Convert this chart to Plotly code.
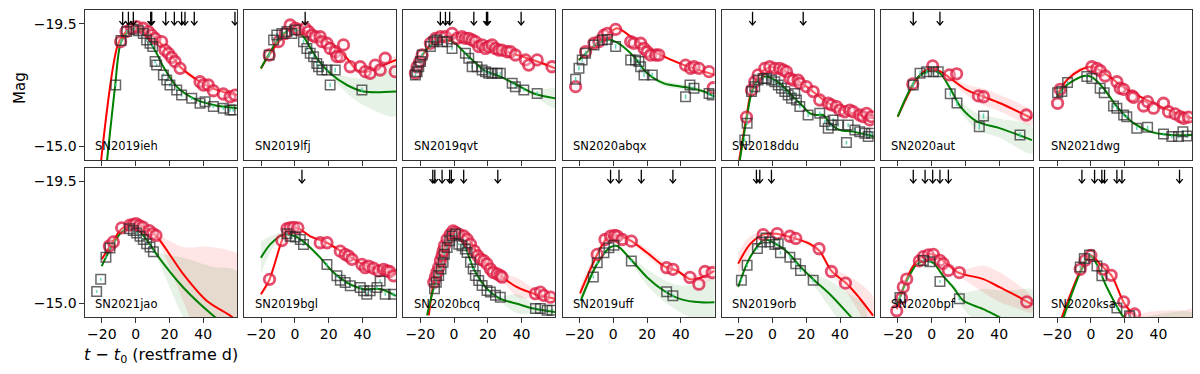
import plotly.graph_objects as go

# --- panel names (2 rows x 7 columns) ---
NAMES = ["SN2019ieh", "SN2019lfj", "SN2019qvt", "SN2020abqx", "SN2018ddu", "SN2020aut", "SN2021dwg",
         "SN2021jao", "SN2019bgl", "SN2020bcq", "SN2019uff", "SN2019orb", "SN2020bpf", "SN2020ksa"]

# r-band photometry (red circles)
R_T = [
    [-8.9, -5.7, -2.4, 0.6, 4.5, 7.5, 9.5, 11.5, 15.4, 17.4, 19.4, 21.3, 23.3, 26.3, 38.1, 40.1, 43.0, 46.0, 51.9, 55.9, 58.8],
    [-15.2, -9.7, -5.7, -2.8, 0.2, 2.2, 6.1, 8.1, 10.1, 12.0, 15.0, 16.0, 19.0, 20.9, 23.9, 24.9, 26.9, 28.8, 32.8, 38.7, 41.7, 44.6, 47.6, 50.5, 53.5, 59.4],
    [-22.9, -21.9, -20.3, -18.9, -14.0, -11.0, -8.1, -5.1, -1.2, 1.8, 4.7, 6.7, 8.7, 10.7, 12.6, 14.6, 16.6, 18.6, 20.5, 22.5, 24.5, 26.5, 28.4, 31.4, 33.4, 36.3, 42.3, 44.2, 49.2, 58.0],
    [-22.3, -16.4, -11.4, -8.5, -5.5, -3.5, 1.4, 10.3, 12.2, 16.2, 18.2, 20.1, 22.1, 25.1, 27.0, 42.8, 45.8, 47.8, 50.7, 56.7, 59.2],
    [-15.4, -12.4, -10.5, -8.5, -4.5, -1.6, 1.4, 4.3, 6.3, 8.3, 10.3, 12.2, 15.2, 16.2, 20.1, 24.1, 28.0, 33.0, 34.9, 37.9, 39.9, 42.8, 45.8, 47.8, 51.7, 53.7, 55.7, 57.6, 58.6],
    [-11.2, 0.6, 10.5, 14.8, 27.7, 30.7, 56.0],
    [-19.7, -18.2, 0.6, 3.6, 5.5, 8.5, 15.4, 17.4, 19.4, 24.3, 25.3, 31.2, 33.6, 37.1, 43.0, 46.0, 49.9, 52.9, 54.9, 57.8],
    [-15.6, -13.2, -8.3, -3.4, -1.4, 0.2, 2.2, 4.2, 8.1, 10.1, 12.0],
    [-15.0, -7.7, -4.7, -2.8, -0.8, 1.8, 15.0, 19.0, 26.9, 29.8, 31.8, 33.8, 39.7, 41.7, 43.6, 46.6, 49.6, 52.5, 54.5, 56.1, 58.4],
    [-12.0, -11.0, -10.1, -9.1, -8.1, -7.1, -6.5, -5.7, -4.1, -2.2, -0.6, 0.8, 2.8, 5.7, 7.7, 9.7, 12.0, 14.0, 15.6, 17.6, 19.5, 21.5, 23.1, 25.5, 27.4, 28.4, 48.2, 51.1, 53.1, 57.1],
    [-9.5, -4.9, -1.6, 0.8, 2.4, 5.3, 10.7, 31.6, 35.3, 45.4, 50.7, 54.3, 58.6],
    [-5.5, 2.8, 10.3, 13.8, 27.6, 34.9, 43.2],
    [-20.7, -17.8, -16.8, -14.8, -7.3, -4.9, -2.0, 1.0, 4.9, 6.9, 9.9, 16.4, 56.3],
    [-6.3, -3.4, 0.0, 7.1, 12.0, 19.4, 23.3, 25.9],
]
R_MAG = [
    [-18.84, -19.21, -19.33, -19.39, -19.33, -19.21, -19.08, -18.96, -18.84, -18.53, -18.41, -18.26, -18.11, -17.86, -17.37, -17.25, -17.25, -17.04, -16.92, -16.82, -16.88],
    [-18.35, -18.84, -19.14, -19.45, -19.33, -19.27, -19.33, -19.21, -19.08, -19.02, -19.02, -18.84, -18.78, -18.59, -18.47, -18.29, -18.29, -18.72, -17.92, -17.92, -17.74, -17.68, -17.98, -17.80, -18.23, -17.74],
    [-17.68, -17.92, -18.11, -18.35, -18.78, -18.96, -19.02, -19.02, -19.14, -18.96, -19.02, -18.96, -18.96, -18.90, -18.84, -18.66, -18.72, -18.59, -18.66, -18.72, -18.59, -18.53, -18.53, -18.47, -18.47, -18.35, -18.17, -17.98, -18.17, -17.92],
    [-17.19, -18.47, -18.78, -18.84, -19.08, -19.14, -19.29, -18.84, -18.78, -18.78, -18.59, -18.47, -18.35, -18.35, -18.35, -17.98, -17.86, -17.92, -17.86, -17.74, -17.15],
    [-16.07, -17.07, -17.37, -17.62, -17.86, -17.92, -17.86, -17.86, -17.80, -17.74, -17.49, -17.43, -17.43, -17.31, -17.19, -17.01, -16.70, -16.58, -16.52, -16.46, -16.33, -16.27, -16.33, -16.27, -16.15, -16.09, -16.21, -15.97, -16.09],
    [-17.29, -17.95, -17.62, -17.66, -16.85, -16.82, -16.15],
    [-16.58, -17.09, -17.92, -17.86, -17.78, -17.58, -17.37, -17.13, -17.09, -16.85, -16.80, -16.48, -16.64, -16.40, -16.58, -16.27, -16.19, -16.09, -16.03, -16.07],
    [-17.12, -17.27, -17.79, -17.89, -17.91, -17.95, -17.87, -17.82, -17.69, -17.58, -17.51],
    [-15.89, -17.32, -17.76, -17.79, -17.81, -17.79, -17.24, -17.24, -16.93, -16.81, -16.75, -16.63, -16.44, -16.32, -16.38, -16.30, -16.20, -16.26, -16.20, -16.18, -16.02],
    [-15.78, -15.97, -16.15, -16.33, -16.58, -16.76, -16.94, -17.13, -17.37, -17.56, -17.68, -17.62, -17.56, -17.49, -17.37, -17.19, -16.94, -16.76, -16.64, -16.58, -16.46, -16.27, -16.15, -16.09, -16.03, -15.97, -15.36, -15.42, -15.30, -15.23],
    [-16.81, -17.36, -17.48, -17.51, -17.48, -17.36, -17.30, -16.32, -16.26, -15.96, -15.71, -16.18, -16.14],
    [-17.54, -17.58, -17.48, -17.40, -17.02, -16.18, -15.75],
    [-14.73, -15.20, -15.61, -15.90, -16.57, -16.73, -16.79, -16.81, -16.59, -16.47, -16.22, -16.14, -15.06],
    [-16.26, -16.59, -16.77, -16.26, -16.04, -15.06, -14.51, -14.61],
]

# g-band photometry (green squares)
G_T = [
    [-11.8, -8.7, -5.3, -1.4, 1.6, 4.5, 6.5, 8.5, 10.1, 11.5, 12.4, 16.4, 18.4, 20.3, 24.3, 27.2, 33.2, 38.1, 41.1, 46.0, 51.9, 55.9, 57.8],
    [-15.2, -12.6, -10.7, -7.7, -4.7, -1.8, 0.2, 5.1, 7.1, 9.1, 11.1, 13.0, 14.0, 16.0, 19.0, 20.9, 23.9, 39.7],
    [-22.9, -21.9, -20.9, -19.9, -18.9, -14.0, -12.0, -10.1, -7.1, -4.1, -1.2, 6.7, 8.7, 10.7, 13.6, 16.6, 18.6, 20.5, 22.5, 25.5, 27.4, 34.4, 36.3, 41.3, 49.2],
    [-22.3, -20.3, -18.4, -16.4, -11.4, -6.5, -3.5, 1.4, 10.3, 13.2, 15.2, 16.2, 18.2, 23.1, 42.8, 45.4, 47.8, 56.7, 58.6],
    [-16.4, -15.0, -12.4, -10.5, -8.5, -5.5, -3.5, -0.6, 1.4, 3.4, 5.3, 7.3, 9.3, 11.3, 13.2, 14.2, 16.2, 21.1, 28.0, 31.0, 33.0, 34.9, 35.9, 38.9, 43.8, 44.8, 48.8, 51.7, 54.7, 56.7, 58.6],
    [-10.9, -6.9, -3.0, 1.0, 3.9, 11.0, 15.0, 28.2, 30.7, 52.3],
    [-19.7, -17.2, -13.8, -2.4, 0.6, 5.5, 7.9, 13.4, 15.4, 19.4, 21.3, 27.2, 33.6, 43.0, 47.9, 51.9, 54.5, 56.9],
    [-23.1, -20.7, -17.6, -15.2, -3.7, -1.4, 0.6, 2.6, 4.5, 6.5, 8.5, 10.5],
    [-4.7, -2.8, 0.2, 3.2, 5.1, 19.0, 24.9, 26.9, 29.8, 32.8, 38.7, 40.7, 42.6, 44.6, 48.6, 50.5, 53.5, 58.4],
    [-11.6, -10.5, -9.1, -7.7, -6.5, -5.7, -4.1, -2.6, -1.2, 0.8, 2.8, 4.7, 6.7, 7.7, 9.7, 11.3, 12.6, 14.6, 16.6, 19.5, 21.5, 24.5, 27.4, 48.2, 51.1, 55.1, 58.0],
    [-11.8, -9.5, -5.5, -2.6, 0.4, 10.7, 31.6, 35.3],
    [-18.4, -15.0, -8.9, -6.5, -3.9, -1.6, 1.4, 3.4, 4.7, 10.3, 13.8, 16.6, 24.1],
    [-18.8, -4.9, -1.0, 4.9, 16.4],
    [-6.3, -3.9, -0.8, 3.6, 6.5, 15.4, 22.9],
]
G_MAG = [
    [-17.25, -18.88, -19.21, -19.29, -19.24, -19.14, -18.90, -18.78, -18.66, -18.11, -17.98, -17.62, -17.43, -17.25, -17.07, -16.88, -16.76, -16.58, -16.64, -16.46, -16.40, -16.33, -16.33],
    [-18.35, -18.90, -19.08, -19.14, -19.21, -19.14, -19.27, -18.84, -18.59, -18.41, -18.29, -18.04, -17.92, -17.80, -17.80, -17.25, -17.80, -17.07],
    [-17.62, -17.74, -17.92, -18.11, -18.35, -18.66, -18.84, -18.90, -18.84, -18.84, -18.59, -18.41, -18.23, -17.92, -17.92, -17.80, -17.74, -17.68, -17.68, -17.68, -17.68, -17.31, -17.19, -17.07, -16.94],
    [-17.46, -17.86, -18.17, -18.41, -18.72, -18.90, -18.92, -18.66, -18.17, -18.17, -18.11, -17.92, -17.62, -17.62, -16.82, -17.25, -17.13, -16.94, -16.88],
    [-15.23, -15.85, -17.01, -17.19, -17.43, -17.49, -17.49, -17.43, -17.37, -17.25, -17.13, -17.01, -16.88, -16.76, -16.94, -16.70, -16.46, -16.15, -16.21, -15.91, -15.66, -15.78, -15.97, -15.78, -15.14, -15.78, -15.60, -15.54, -15.48, -15.36, -15.48],
    [-17.25, -17.68, -17.74, -17.74, -17.74, -16.93, -16.59, -15.72, -16.11, -15.42],
    [-16.97, -17.01, -17.34, -17.56, -17.49, -17.13, -16.97, -16.48, -16.40, -16.15, -16.09, -15.66, -15.70, -15.45, -15.36, -15.36, -15.54, -15.38],
    [-15.44, -15.89, -16.71, -17.05, -17.76, -17.69, -17.60, -17.48, -17.36, -17.20, -17.08, -16.91],
    [-17.57, -17.48, -17.45, -17.36, -17.18, -16.44, -16.02, -15.86, -15.77, -15.65, -15.59, -15.47, -15.34, -15.47, -15.59, -15.83, -15.34, -15.34],
    [-15.54, -15.78, -16.03, -16.27, -16.52, -16.82, -17.07, -17.31, -17.49, -17.56, -17.19, -17.13, -17.01, -16.88, -16.52, -16.27, -16.03, -15.85, -15.66, -15.48, -15.42, -15.30, -15.23, -14.81, -14.81, -14.75, -14.75],
    [-15.98, -16.50, -16.87, -17.06, -17.15, -16.57, -15.43, -15.28],
    [-15.86, -16.41, -17.03, -17.27, -17.42, -17.27, -17.18, -17.20, -16.87, -16.71, -16.47, -16.22, -15.86],
    [-15.22, -16.59, -16.54, -15.81, -15.17],
    [-16.35, -16.66, -16.79, -16.38, -16.02, -14.83, -14.55],
]
# typical g-band error per object
G_ERR = [0.06, 0.08, 0.06, 0.08, 0.07, 0.1, 0.06, 0.05, 0.06, 0.04, 0.05, 0.06, 0.05, 0.05]

# r-band model curve and 1-sigma width
RL_T = [
    [-20.5, -10.3, -5.0, -1.4, 8.5, 18.4, 26.3, 38.1, 47.9, 60.0],
    [-20.1, -15.2, -8.7, -1.8, 7.1, 20.9, 30.8, 36.7, 42.6, 52.5, 60.0],
    [-20.0, -12.0, -2.2, 7.7, 17.6, 27.4, 37.3, 49.2, 60.0],
    [-20.3, -11.4, -3.5, 2.4, 14.2, 26.1, 41.9, 53.7, 60.0],
    [-19.7, -15.4, -12.4, -7.5, -1.6, 6.3, 14.2, 22.1, 32.0, 41.9, 51.7, 60.0],
    [-20.1, -10.9, -4.9, 0.6, 6.9, 20.7, 30.7, 40.6, 59.4],
    [-20.1, -14.2, -6.3, 0.6, 9.5, 19.4, 29.2, 39.1, 50.9, 60.0],
    [-20.1, -15.2, -8.3, -1.4, 6.5, 12.4, 28.2, 42.0, 56.0, 60.0],
    [-20.1, -15.0, -7.7, -4.7, 1.2, 9.1, 19.0, 28.8, 38.7, 48.6, 59.8],
    [-15.0, -12.0, -6.1, -0.2, 7.7, 15.6, 27.4, 37.3, 47.2, 60.0],
    [-19.7, -9.5, -3.5, 2.4, 10.3, 20.1, 30.0, 37.9, 45.8, 51.7, 60.0],
    [-20.3, -13.4, -5.5, 2.4, 12.2, 22.1, 28.0, 34.9, 43.2, 49.7, 59.6],
    [-20.7, -16.8, -10.9, -4.9, 1.0, 6.9, 15.8, 30.6, 40.5, 50.3, 59.2],
    [-17.2, -6.3, -0.4, 6.5, 12.4, 19.4, 26.3, 35.0, 45.0, 55.0, 60.0],
]
RL_MAG = [
    [-14.45, -18.78, -19.25, -19.41, -19.14, -18.53, -17.92, -17.37, -17.07, -16.88],
    [-17.86, -18.35, -18.90, -19.39, -19.21, -18.78, -18.23, -17.80, -17.74, -17.98, -18.17],
    [-18.20, -18.86, -19.06, -18.96, -18.72, -18.53, -18.35, -18.11, -17.86],
    [-18.17, -18.70, -19.10, -19.33, -18.84, -18.41, -17.98, -17.74, -17.62],
    [-14.50, -16.09, -17.07, -17.65, -17.90, -17.80, -17.45, -17.10, -16.62, -16.32, -16.15, -16.03],
    [-16.09, -17.25, -17.74, -17.86, -17.68, -17.07, -16.82, -16.58, -16.03],
    [-16.88, -17.43, -17.80, -17.92, -17.62, -17.16, -16.82, -16.52, -16.21, -16.03],
    [-16.63, -17.12, -17.76, -17.94, -17.76, -17.48, -16.08, -15.10, -14.55, -14.35],
    [-15.34, -15.89, -17.32, -17.69, -17.79, -17.48, -17.24, -16.87, -16.50, -16.26, -16.08],
    [-14.56, -15.78, -17.01, -17.68, -17.43, -16.70, -16.03, -15.60, -15.36, -15.17],
    [-15.37, -16.81, -17.42, -17.51, -17.32, -16.87, -16.38, -16.20, -15.89, -15.95, -16.20],
    [-16.47, -17.18, -17.54, -17.57, -17.42, -17.20, -16.93, -16.20, -15.77, -15.34, -14.55],
    [-14.79, -15.59, -16.39, -16.76, -16.81, -16.57, -16.14, -15.90, -15.59, -15.28, -14.97],
    [-14.49, -16.20, -16.79, -16.38, -16.02, -15.04, -14.49, -13.90, -13.70, -13.80, -13.90],
]
RL_ERR = [
    [0.3, 0.1, 0.05, 0.05, 0.05, 0.1, 0.1, 0.1, 0.05, 0.05],
    [0.1, 0.05, 0.05, 0.05, 0.05, 0.05, 0.05, 0.05, 0.05, 0.1, 0.15],
    [0.05, 0.05, 0.05, 0.05, 0.05, 0.05, 0.05, 0.05, 0.1],
    [0.05, 0.05, 0.05, 0.05, 0.05, 0.05, 0.05, 0.05, 0.05],
    [0.1, 0.05, 0.05, 0.05, 0.05, 0.05, 0.05, 0.05, 0.05, 0.05, 0.05, 0.05],
    [0.1, 0.05, 0.05, 0.05, 0.05, 0.2, 0.3, 0.3, 0.25],
    [0.15, 0.15, 0.1, 0.05, 0.05, 0.05, 0.05, 0.05, 0.05, 0.05],
    [0.05, 0.05, 0.05, 0.05, 0.05, 0.1, 1.0, 2.0, 2.4, 2.5],
    [0.1, 0.1, 0.05, 0.05, 0.05, 0.05, 0.05, 0.05, 0.05, 0.05, 0.05],
    [0.1, 0.05, 0.05, 0.05, 0.05, 0.05, 0.1, 0.35, 0.2, 0.1],
    [0.25, 0.2, 0.15, 0.1, 0.1, 0.15, 0.15, 0.1, 0.1, 0.2, 0.25],
    [0.4, 0.3, 0.1, 0.05, 0.05, 0.1, 0.1, 0.15, 0.3, 0.5, 0.7],
    [0.1, 0.05, 0.05, 0.05, 0.05, 0.05, 0.1, 0.5, 0.55, 0.45, 0.3],
    [0.3, 0.05, 0.05, 0.05, 0.05, 0.05, 0.1, 0.8, 1.05, 0.95, 0.9],
]

# g-band model curve and 1-sigma width
GL_T = [
    [-17.0, -12.2, -8.9, -4.0, -0.4, 5.0, 12.4, 16.4, 24.3, 34.2, 46.0, 60.0],
    [-20.1, -14.6, -8.7, -0.8, 5.1, 13.0, 20.9, 30.8, 40.7, 60.0],
    [-19.0, -13.0, -4.1, -0.1, 7.7, 17.6, 27.4, 37.3, 47.2, 60.0],
    [-20.3, -11.4, -3.5, 2.4, 12.2, 20.1, 30.0, 43.8, 53.7, 60.0],
    [-19.3, -15.4, -12.4, -7.5, -3.5, 4.3, 12.2, 18.2, 22.1, 26.0, 30.0, 34.0, 39.9, 47.8, 60.0],
    [-20.1, -8.9, -1.0, 4.9, 10.9, 17.0, 26.9, 40.6, 59.4],
    [-20.1, -14.2, -4.3, 0.6, 7.5, 15.4, 25.3, 35.1, 47.0, 60.0],
    [-20.1, -15.2, -8.3, -1.4, 6.5, 12.4, 28.2, 46.0, 60.0],
    [-20.1, -14.6, -6.7, 0.2, 7.1, 15.0, 22.9, 30.8, 40.7, 50.5, 59.8],
    [-16.0, -12.0, -6.1, -0.2, 5.7, 11.7, 19.5, 27.4, 37.3, 47.2, 60.0],
    [-19.3, -9.5, -1.6, 2.4, 10.3, 20.1, 30.0, 39.9, 51.7, 60.0],
    [-20.3, -13.4, -4.5, 2.4, 8.3, 16.2, 24.1, 34.0, 45.8, 55.0],
    [-20.7, -14.8, -8.9, -3.0, 1.0, 6.9, 12.8, 18.8, 30.6, 40.5, 50.0, 60.0],
    [-16.2, -6.3, -0.4, 3.6, 9.5, 19.4, 30.0, 45.0, 60.0],
]
GL_MAG = [
    [-14.45, -17.19, -18.78, -19.22, -19.32, -19.15, -18.41, -17.92, -17.19, -16.76, -16.52, -16.40],
    [-17.86, -18.47, -19.02, -19.33, -19.02, -18.23, -17.68, -17.25, -17.01, -17.01],
    [-18.35, -18.74, -18.90, -18.81, -18.35, -17.80, -17.56, -17.25, -16.94, -16.76],
    [-18.17, -18.66, -18.92, -18.80, -18.29, -17.68, -17.31, -17.16, -17.01, -16.82],
    [-14.50, -15.97, -16.94, -17.49, -17.56, -17.31, -16.82, -16.46, -16.21, -16.15, -16.15, -15.85, -15.60, -15.54, -15.36],
    [-16.09, -17.49, -17.77, -17.68, -17.13, -16.46, -15.91, -15.66, -15.23],
    [-16.82, -17.25, -17.58, -17.54, -17.13, -16.46, -15.85, -15.54, -15.42, -15.42],
    [-16.38, -16.99, -17.64, -17.85, -17.36, -16.81, -15.59, -14.55, -13.90],
    [-16.69, -17.18, -17.54, -17.48, -17.18, -16.69, -16.14, -15.77, -15.53, -15.53, -15.28],
    [-14.56, -15.60, -16.76, -17.56, -17.19, -16.27, -15.54, -15.17, -14.99, -14.81, -14.68],
    [-15.10, -16.47, -17.08, -17.12, -16.63, -15.96, -15.47, -15.16, -15.04, -15.04],
    [-15.61, -16.69, -17.36, -17.18, -16.93, -16.38, -15.89, -15.34, -14.55, -13.90],
    [-14.92, -15.83, -16.44, -16.57, -16.50, -16.01, -15.59, -15.10, -14.79, -14.48, -14.20, -13.90],
    [-14.49, -16.14, -16.75, -16.44, -15.59, -14.49, -13.90, -13.70, -13.80],
]
GL_ERR = [
    [0.2, 0.1, 0.05, 0.05, 0.05, 0.05, 0.05, 0.05, 0.05, 0.05, 0.05, 0.08],
    [0.1, 0.05, 0.05, 0.05, 0.05, 0.05, 0.1, 0.3, 0.5, 0.9],
    [0.05, 0.05, 0.05, 0.05, 0.05, 0.05, 0.05, 0.05, 0.1, 0.35],
    [0.05, 0.05, 0.05, 0.05, 0.05, 0.05, 0.1, 0.1, 0.05, 0.05],
    [0.1, 0.05, 0.05, 0.05, 0.05, 0.05, 0.05, 0.05, 0.05, 0.05, 0.05, 0.05, 0.05, 0.05, 0.05],
    [0.1, 0.05, 0.05, 0.05, 0.1, 0.2, 0.3, 0.35, 0.5],
    [0.1, 0.05, 0.05, 0.05, 0.05, 0.05, 0.05, 0.05, 0.05, 0.05],
    [0.05, 0.05, 0.05, 0.05, 0.05, 0.1, 1.1, 1.8, 2.3],
    [0.6, 0.3, 0.1, 0.05, 0.05, 0.05, 0.05, 0.05, 0.05, 0.05, 0.05],
    [0.1, 0.05, 0.05, 0.05, 0.05, 0.05, 0.05, 0.1, 0.35, 0.2, 0.1],
    [0.2, 0.1, 0.05, 0.05, 0.1, 0.3, 0.4, 0.5, 0.7, 0.9],
    [0.1, 0.1, 0.05, 0.05, 0.05, 0.1, 0.2, 0.5, 0.8, 1.0],
    [0.1, 0.05, 0.05, 0.05, 0.05, 0.05, 0.1, 0.3, 0.75, 1.0, 1.3, 1.6],
    [0.3, 0.05, 0.05, 0.05, 0.05, 0.1, 0.6, 0.95, 0.85],
]

# spectral epochs (arrows at the top)
SPEC_T = [
    [-7.7, -4.3, -1.4, 8.9, 9.5, 17.8, 22.9, 27.2, 29.2, 34.7, 58.8],
    [6.1],
    [-8.1, -5.1, -2.6, 11.7, 19.2, 19.9, 39.7],
    [],
    [-11.8, 18.2],
    [-10.9, 4.9],
    [],
    [],
    [4.2],
    [-12.6, -11.4, -7.1, -2.6, -1.6, 5.7, 25.9],
    [-1.6, 3.4, 16.6, 35.3],
    [-9.5, -7.5, -0.6],
    [-10.9, -3.9, 0.6, 4.9, 9.9],
    [-5.3, 2.2, 6.5, 8.1, 15.4, 18.4, 52.5],
]

X_TICKS = [-20, 0, 20, 40]
Y_TICKS = [-19.5, -15.0]

W, H = 1200, 374
FONT = "DejaVu Sans"
# arrow geometry in data units: stem top, tip, half head width, head height
ARROW_TOP, ARROW_TIP, HEAD_DX, HEAD_DY = -19.94, -19.45, 1.9, 0.14

fig = go.Figure()


def band(t, m, e):
    lo = [a - b for a, b in zip(m, e)]
    hi = [a + b for a, b in zip(m, e)]
    return t + t[::-1], lo + hi[::-1]


for k, name in enumerate(NAMES):
    row, col = divmod(k, 7)
    i = k + 1
    xa = "x" if i == 1 else f"x{i}"
    ya = "y" if i == 1 else f"y{i}"

    # uncertainty bands
    bx, by = band(RL_T[k], RL_MAG[k], RL_ERR[k])
    fig.add_trace(go.Scatter(x=bx, y=by, xaxis=xa, yaxis=ya, fill="toself", mode="lines",
                             line=dict(width=0, shape="spline", smoothing=0.8),
                             fillcolor="rgba(255,0,0,0.1)", hoverinfo="skip", showlegend=False))
    bx, by = band(GL_T[k], GL_MAG[k], GL_ERR[k])
    fig.add_trace(go.Scatter(x=bx, y=by, xaxis=xa, yaxis=ya, fill="toself", mode="lines",
                             line=dict(width=0, shape="spline", smoothing=0.8),
                             fillcolor="rgba(0,128,0,0.1)", hoverinfo="skip", showlegend=False))
    # model lines
    fig.add_trace(go.Scatter(x=RL_T[k], y=RL_MAG[k], xaxis=xa, yaxis=ya, mode="lines",
                             line=dict(color="red", width=2, shape="spline", smoothing=0.8),
                             showlegend=False))
    fig.add_trace(go.Scatter(x=GL_T[k], y=GL_MAG[k], xaxis=xa, yaxis=ya, mode="lines",
                             line=dict(color="green", width=2, shape="spline", smoothing=0.8),
                             showlegend=False))
    # data points
    fig.add_trace(go.Scatter(x=R_T[k], y=R_MAG[k], xaxis=xa, yaxis=ya, mode="markers",
                             marker=dict(symbol="circle", size=10.5, color="rgba(255,235,240,0.35)",
                                         line=dict(color="rgba(220,20,60,0.75)", width=2.8)),
                             showlegend=False))
    fig.add_trace(go.Scatter(x=G_T[k], y=G_MAG[k], xaxis=xa, yaxis=ya, mode="markers",
                             error_y=dict(type="constant", value=G_ERR[k], color="rgba(64,200,170,0.8)",
                                          thickness=1.5, width=0),
                             marker=dict(symbol="square-open", size=9.5, color="rgba(40,40,40,0.7)",
                                         line=dict(width=1.5)),
                             showlegend=False))
    # spectra arrows: stem plus open head, one path per epoch
    ax_, ay_ = [], []
    for t in SPEC_T[k]:
        ax_ += [t, t, None, t - HEAD_DX, t, t + HEAD_DX, None]
        ay_ += [ARROW_TOP, ARROW_TIP, None, ARROW_TIP - HEAD_DY, ARROW_TIP, ARROW_TIP - HEAD_DY, None]
    if ax_:
        fig.add_trace(go.Scatter(x=ax_, y=ay_, xaxis=xa, yaxis=ya, mode="lines",
                                 line=dict(color="black", width=1.3), showlegend=False,
                                 hoverinfo="skip", cliponaxis=False))

    left = 85 + 159.2 * col
    top, bottom = (10, 160) if row == 0 else (168, 317)
    xdom = [left / W, (left + 152) / W]
    ydom = [1 - bottom / H, 1 - top / H]

    fig.layout["xaxis" if i == 1 else f"xaxis{i}"] = dict(
        domain=xdom, anchor=ya, range=[-30, 60], tickvals=X_TICKS,
        showticklabels=(row == 1), ticks="outside", ticklen=4.5, tickwidth=1, tickcolor="#333",
        showline=True, mirror=True, linecolor="#333", linewidth=1.2, showgrid=False, zeroline=False,
        tickfont=dict(family=FONT, size=14, color="black"))
    fig.layout["yaxis" if i == 1 else f"yaxis{i}"] = dict(
        domain=ydom, anchor=xa, range=[-14.5, -20], tickvals=Y_TICKS, tickformat=".1f",
        showticklabels=(col == 0), ticks="outside" if col == 0 else "", ticklen=4.5, tickwidth=1,
        tickcolor="#333", showline=True, mirror=True, linecolor="#333", linewidth=1.2,
        showgrid=False, zeroline=False, tickfont=dict(family=FONT, size=14, color="black"))

    fig.add_annotation(text=name, xref=f"{xa} domain", yref=f"{ya} domain", x=0.055, y=0.09,
                       xanchor="left", yanchor="middle", showarrow=False,
                       font=dict(family=FONT, size=11.5, color="black"))

fig.add_annotation(text="Mag", xref="paper", yref="paper", x=20 / W, y=1 - 88 / H, textangle=-90,
                   xanchor="center", yanchor="middle", showarrow=False,
                   font=dict(family=FONT, size=15, color="black"))
fig.add_annotation(text="<i>t</i> − <i>t</i><sub>0</sub> (restframe d)", xref="paper", yref="paper",
                   x=161 / W, y=1 - 355 / H, xanchor="center", yanchor="middle", showarrow=False,
                   font=dict(family=FONT, size=16, color="black"))

fig.update_layout(width=W, height=H, margin=dict(l=0, r=0, t=0, b=0),
                  plot_bgcolor="white", paper_bgcolor="white", showlegend=False)

# the page body has a default 8px margin; remove it so the figure sits at the window origin
fig.write_html("out.html", config={"displayModeBar": False},
               post_script="document.body.style.margin='0px';")
